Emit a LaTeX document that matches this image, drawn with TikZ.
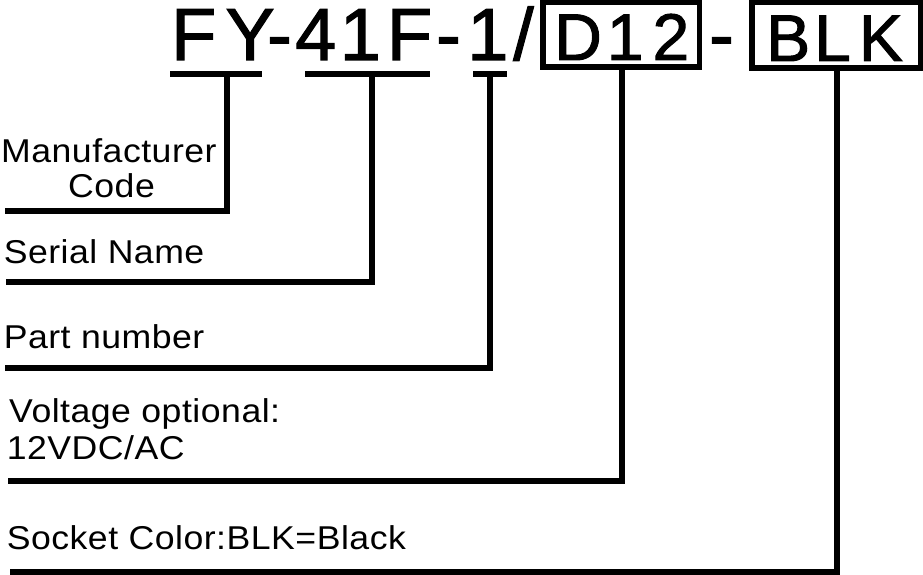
\documentclass[tikz,border=0pt]{standalone}
\usepackage{fontspec}
\setmainfont{Liberation Sans}
\newfontfamily\lblfont[LetterSpace=1.5,FakeStretch=1.08]{Liberation Sans}
\newfontfamily\ttlfont[FakeBold=1.5]{Liberation Sans}
\begin{document}
\begin{tikzpicture}[x=1pt,y=-1pt,
  ttl/.style={font=\ttlfont\fontsize{74}{74}\selectfont, inner sep=0pt, anchor=base west},
  boxt/.style={font=\ttlfont\fontsize{66}{66}\selectfont, inner sep=0pt, anchor=base west},
  lbl/.style={font=\lblfont\fontsize{33}{33}\selectfont, inner sep=0pt, anchor=base west},
  ln/.style={line width=5.5pt, line join=miter, line cap=butt},
  frame/.style={line width=5.5pt, line join=miter}]
\useasboundingbox (0,0) rectangle (923,575);

% title pieces
\node[ttl] (fy) at (171,60) {F\kern9pt Y};
\node[ttl] (h1) at (267,60) {-};
\node[ttl] (f41) at (295,60) {4\kern3.5pt 1\kern6pt F};
\node[ttl] (h2) at (436,60) {-};
\node[ttl] (one) at (467,60) {1};
\node[ttl] (sl) at (513,60) {/};
\node[boxt] (d12) at (554,60) {D\kern5pt 1\kern9pt 2};
\node[ttl] (h3) at (709,60) {-};
\node[boxt] (blk) at (766,61) {B\kern4pt L\kern8pt K};

% boxes
\coordinate (d12tl) at (542.75,2.75);
\coordinate (d12br) at (699.25,67.25);
\coordinate (blktl) at (751.75,2.75);
\coordinate (blkbr) at (920.25,68.25);
\draw[frame] (d12tl) rectangle (d12br);
\draw[frame] (blktl) rectangle (blkbr);

% underlines
\coordinate (fyL) at (170,74);
\coordinate (fyR) at (262,74);
\coordinate (fL) at (305,74);
\coordinate (fR) at (430,74);
\coordinate (oL) at (473,74);
\coordinate (oR) at (507,74);
\draw[ln] (fyL) -- (fyR);
\draw[ln] (fL) -- (fR);
\draw[ln] (oL) -- (oR);

% connector tops
\coordinate (c1) at (227,74);
\coordinate (c2) at (372,74);
\coordinate (c3) at (490,74);
\coordinate (c4) at (622,67.25);
\coordinate (c5) at (837,68.25);

% connector ends
\coordinate (e1) at (5,211);
\coordinate (e2) at (6,282);
\coordinate (e3) at (5,368);
\coordinate (e4) at (8,481);
\coordinate (e5) at (10,572);

\draw[ln] (c1) |- (e1);
\draw[ln] (c2) |- (e2);
\draw[ln] (c3) |- (e3);
\draw[ln] (c4) |- (e4);
\draw[ln] (c5) |- (e5);

% labels
\node[lbl] (mfr) at (1,162) {Manufacturer};
\node[lbl] (code) at (68,197) {Code};
\node[lbl] (ser) at (3.6,263) {Serial Name};
\node[lbl] (part) at (3.6,348) {Part number};
\node[lbl] (volt) at (9,422) {Voltage optional:};
\node[lbl] (v12) at (6.6,459) {12VDC/AC};
\node[lbl] (sock) at (6.6,549) {Socket Color:BLK=Black};
\end{tikzpicture}
\end{document}
